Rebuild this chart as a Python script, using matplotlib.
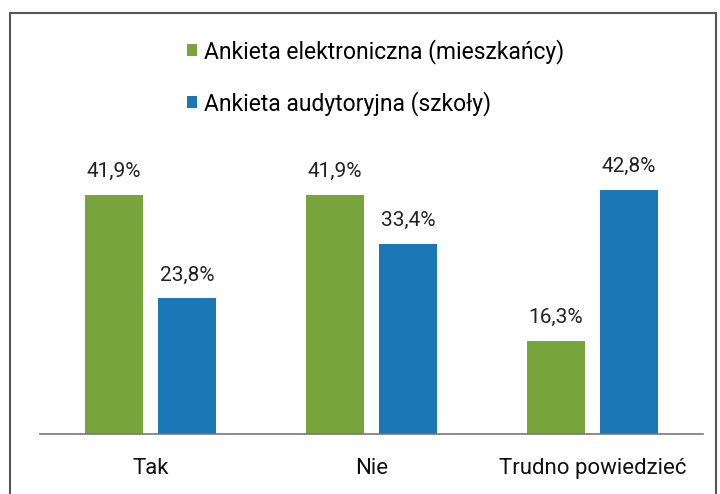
import numpy as np
import matplotlib
matplotlib.use('Agg')
import matplotlib.pyplot as plt
from matplotlib.patches import Rectangle

plt.rcParams['font.family'] = ['Roboto', 'DejaVu Sans']

categories = ['Tak', 'Nie', 'Trudno powiedzieć']
series_names = ['Ankieta elektroniczna (mieszkańcy)', 'Ankieta audytoryjna (szkoły)']
elektroniczna = [41.9, 41.9, 16.3]
audytoryjna = [23.8, 33.4, 42.8]
colors = ['#77a43b', '#1b77b6']

W, H = 720, 494
fig = plt.figure(figsize=(W / 100, H / 100), dpi=100)
ax = fig.add_axes([40 / W, (H - 434) / H, (703 - 40) / W, (434 - 149) / H])

x = np.arange(len(categories))
bw = 0.265
off = 0.165
b1 = ax.bar(x - off, elektroniczna, bw, color=colors[0], label=series_names[0])
b2 = ax.bar(x + off, audytoryjna, bw, color=colors[1], label=series_names[1])

for bars, vals in [(b1, elektroniczna), (b2, audytoryjna)]:
    for rect, v in zip(bars, vals):
        ax.annotate(('%.1f%%' % v).replace('.', ','),
                    (rect.get_x() + rect.get_width() / 2, v),
                    xytext=(0, 10), textcoords='offset points',
                    ha='center', va='bottom', fontsize=15, color='#222222')

ax.set_xlim(-0.5, 2.5)
ax.set_ylim(0, 50)
ax.set_xticks(x)
ax.set_xticklabels(categories, fontsize=16, color='#111111')
ax.tick_params(axis='x', length=0, pad=17)
ax.set_yticks([])
for s in ['top', 'right', 'left']:
    ax.spines[s].set_visible(False)
ax.spines['bottom'].set_color('#777777')
ax.spines['bottom'].set_linewidth(1.2)

fig.legend(handles=[b1, b2], labels=series_names, loc='upper left',
           bbox_to_anchor=(166 / W, 1 - 18 / H), frameon=False,
           fontsize=16.5, handlelength=0.45, handleheight=0.45,
           handletextpad=0.3, labelspacing=1.2)

# border around the chart
fig.patches.append(Rectangle((10 / W, -0.05), (716 - 10) / W, 1 - 13 / H + 0.05,
                             transform=fig.transFigure, fill=False,
                             edgecolor='#555555', linewidth=1.5))

fig.savefig('out.png', dpi=100)
